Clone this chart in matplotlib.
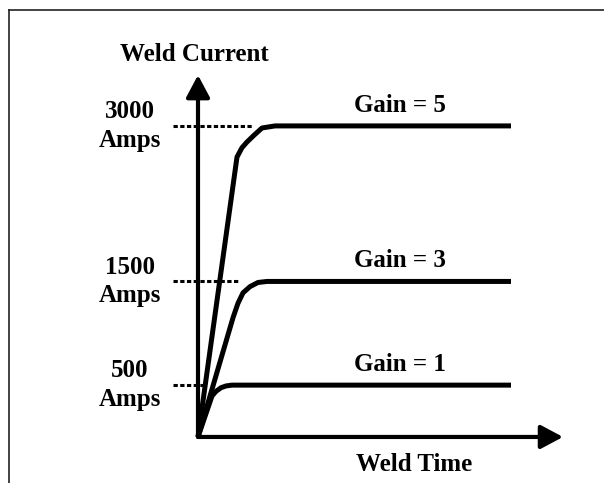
import matplotlib.pyplot as plt

# response curves: weld time (arbitrary units) vs weld current (A)
gains = [5, 3, 1]
levels = [3000, 1500, 500]
curve_t = [
    [0, 3.9, 4.4, 4.9, 5.6, 6.4, 7.7, 31.3],
    [0, 3.5, 4.0, 4.5, 5.2, 6.0, 6.9, 31.3],
    [0, 1.4, 1.8, 2.3, 2.8, 3.4, 31.3],
]
curve_i = [
    [0, 2700, 2790, 2845, 2910, 2980, 3000, 3000],
    [0, 1150, 1290, 1390, 1450, 1490, 1500, 1500],
    [0, 395, 440, 475, 492, 500, 500],
]
level_labels = ['3000\nAmps', '1500\nAmps', '500\nAmps']
dash_end = [5.4, 4.0, 0.7]
dash_start = -2.5

y_tip = 3490
x_tip = 36.5

plt.rcParams['font.family'] = ['Liberation Serif', 'DejaVu Serif']

fig = plt.figure(figsize=(6.04, 4.83), dpi=100)
ax = fig.add_axes([9 / 604, 0, 595 / 604, 473 / 483])
ax.set_xlim(-18.9, 40.6)
ax.set_ylim(-444, 4118)
ax.set_xticks([])
ax.set_yticks([])
for side in ['right', 'bottom']:
    ax.spines[side].set_visible(False)
for side in ['left', 'top']:
    ax.spines[side].set_linewidth(1.2)
    ax.spines[side].set_color('#222222')

# axes arrows
arrow = dict(arrowstyle='-|>,head_length=0.45,head_width=0.24', lw=3, color='black',
             mutation_scale=30, shrinkA=0, shrinkB=0)
ax.annotate('', xy=(0, y_tip), xytext=(0, 0), arrowprops=arrow)
ax.annotate('', xy=(x_tip, 0), xytext=(0, 0), arrowprops=arrow)

fs = 18
for g, lvl, t, i, lab, de in zip(gains, levels, curve_t, curve_i, level_labels, dash_end):
    ax.plot(t, i, color='black', lw=3.6, solid_capstyle='butt', solid_joinstyle='round')
    ax.plot([dash_start, de], [lvl, lvl], color='black', lw=2.2, dashes=(1.4, 0.8))
    ax.annotate('Gain = %d' % g, xy=(20.2, lvl), xytext=(0, 15), textcoords='offset points',
                ha='center', va='center', fontsize=fs, fontweight='bold')
    ax.annotate(lab, xy=(dash_start, lvl), xytext=(-31, 0), textcoords='offset points',
                ha='center', va='center', fontsize=fs, fontweight='bold', linespacing=1.32)

ax.annotate('Weld Current', xy=(0, y_tip), xytext=(-2.5, 14.5), textcoords='offset points',
            ha='center', va='center', fontsize=fs, fontweight='bold')
ax.annotate('Weld Time', xy=(21.6, 0), xytext=(0, -20), textcoords='offset points',
            ha='center', va='center', fontsize=fs, fontweight='bold')

fig.savefig('out.png', dpi=100)
